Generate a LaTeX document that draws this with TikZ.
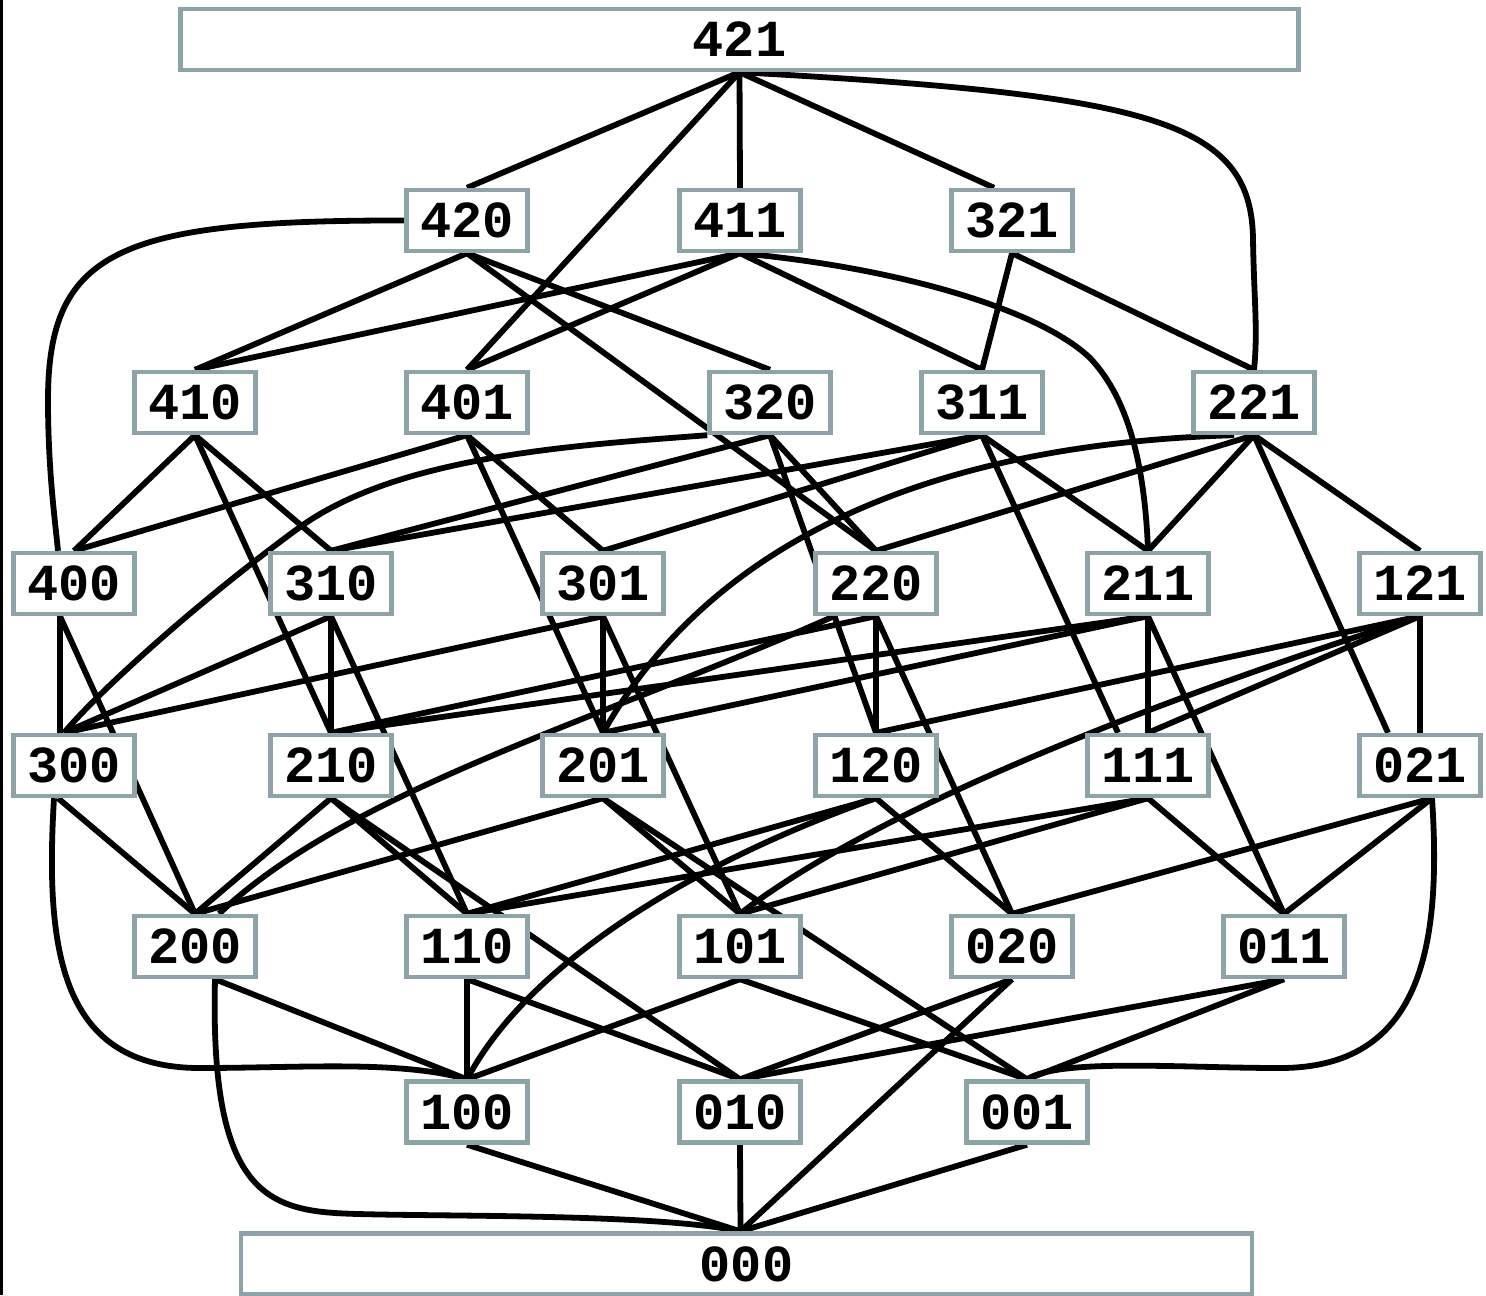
\documentclass[tikz,border=0pt]{standalone}
\usepackage{fontspec}
\setmonofont{Liberation Mono}
\usetikzlibrary{backgrounds}
\definecolor{boxgray}{RGB}{140,164,167}

\begin{document}
\begin{tikzpicture}[x=0.5pt,y=-0.5pt,
  state/.style={draw=boxgray,line width=2.2pt,fill=white,inner sep=0pt,
    minimum width=60.5pt,minimum height=30.5pt,
    font=\ttfamily\bfseries\fontsize{26pt}{26pt}\selectfont},
  link/.style={line width=2.9pt}]
  \useasboundingbox (0,0) rectangle (1486,1295);
  \fill (0,0) rectangle (3,1295);
  \node[state,minimum width=559pt] (n421) at (739.5,39.5) {421};
  \foreach \n/\x in {420/467,411/740,321/1012}
    \node[state] (n\n) at (\x,220.5) {\n};
  \foreach \n/\x in {410/195,401/467,320/770,311/982,221/1254}
    \node[state] (n\n) at (\x,402.5) {\n};
  \foreach \n/\x in {400/74,310/331,301/603,220/876,211/1148,121/1420}
    \node[state] (n\n) at (\x,583.5) {\n};
  \foreach \n/\x in {300/74,210/331,201/603,120/876,111/1148,021/1420}
    \node[state] (n\n) at (\x,765.5) {\n};
  \foreach \n/\x in {200/195,110/467,101/740,020/1012,011/1284}
    \node[state] (n\n) at (\x,946.5) {\n};
  \foreach \n/\x in {100/467,010/740,001/1027}
    \node[state] (n\n) at (\x,1112) {\n};
  \node[state,minimum width=505.5pt] (n000) at (746.5,1264) {000};
  \coordinate (foot) at ([xshift=-3pt]n000.north);

  \begin{scope}[on background layer]
    \foreach \a/\b in {421/420,421/411,421/401,
        420/410,420/320,420/220,411/410,411/401,411/311,321/311,321/221,
        410/400,410/310,410/210,401/400,401/301,401/201,
        320/310,320/220,320/120,311/310,311/301,311/211,
        221/220,221/211,221/121,
        310/210,310/110,301/201,301/101,
        220/210,220/120,220/020,211/210,211/201,211/111,211/011,
        121/120,121/111,121/021,
        210/200,210/110,210/010,201/200,201/101,201/001,
        120/110,120/020,111/110,111/101,111/011,
        110/100,110/010,101/100,101/001,020/010,011/010,011/001}
      \draw[link] (n\a.south) -- (n\b.north);
    \draw[link] (n421.south) -- ([xshift=-9pt]n321.north);
    \draw[link] (n311.south) -- ([xshift=-15pt]n111.north);
    \draw[link] (n221.south) -- ([xshift=-16pt]n021.north);
    \draw[link] ([xshift=-7pt]n400.south) -- ([xshift=-7pt]n300.north);
    \draw[link] ([xshift=-7pt]n400.south) -- (n200.north);
    \draw[link] (n310.south) -- ([xshift=-5pt]n300.north);
    \draw[link] (n301.south) -- ([xshift=-5pt]n300.north);
    \draw[link] ([xshift=-8pt]n300.south) -- (n200.north);
    \draw[link] ([xshift=10pt]n200.south) -- (n100.north);
    \draw[link] ([xshift=6pt]n021.south) -- (n020.north);
    \draw[link] ([xshift=6pt]n021.south) -- (n011.north);
    \foreach \a in {100,010,020,001}
      \draw[link] (n\a.south) -- (foot);
    \draw[link] (n421.south) .. controls (1150,95) and (1252,120) .. (1253,240)
      .. controls (1254,300) and (1258,330) .. (n221.north);
    \draw[link] (n420.west) .. controls (120,220) and (48,250) .. (48,400)
      .. controls (48,470) and (55,520) .. ([xshift=-8pt]n400.north);
    \draw[link] (n411.south) .. controls (900,268) and (1040,310) .. (1090,358)
      .. controls (1130,400) and (1145,470) .. (n211.north);
    \draw[link] (n320.south west) .. controls (580,445) and (400,455) .. (300,527)
      .. controls (200,600) and (100,690) .. ([xshift=-5pt]n300.north);
    \draw[link] ([xshift=-10pt]n221.south) .. controls (900,445) and (700,560) .. (n201.north);
    \draw[link] ([xshift=-21pt]n220.south) .. controls (600,720) and (350,790) .. ([xshift=12pt]n200.north);
    \draw[link] (n121.south) .. controls (1250,670) and (900,790) .. (n101.north);
    \draw[link] (n120.south) .. controls (700,860) and (530,960) .. (n100.north);
    \draw[link] ([xshift=-10pt]n300.south) .. controls (45,950) and (60,1068) .. (200,1068)
      .. controls (300,1068) and (400,1060) .. (n100.north);
    \draw[link] ([xshift=10pt]n200.south) .. controls (210,1180) and (260,1208) .. (335,1213)
      .. controls (400,1217.3) and (650,1212) .. (foot);
    \draw[link] ([xshift=6pt]n021.south) .. controls (1442,950) and (1420,1068) .. (1280,1068)
      .. controls (1180,1068) and (1060,1058) .. (n001.north);
  \end{scope}
\end{tikzpicture}
\end{document}
